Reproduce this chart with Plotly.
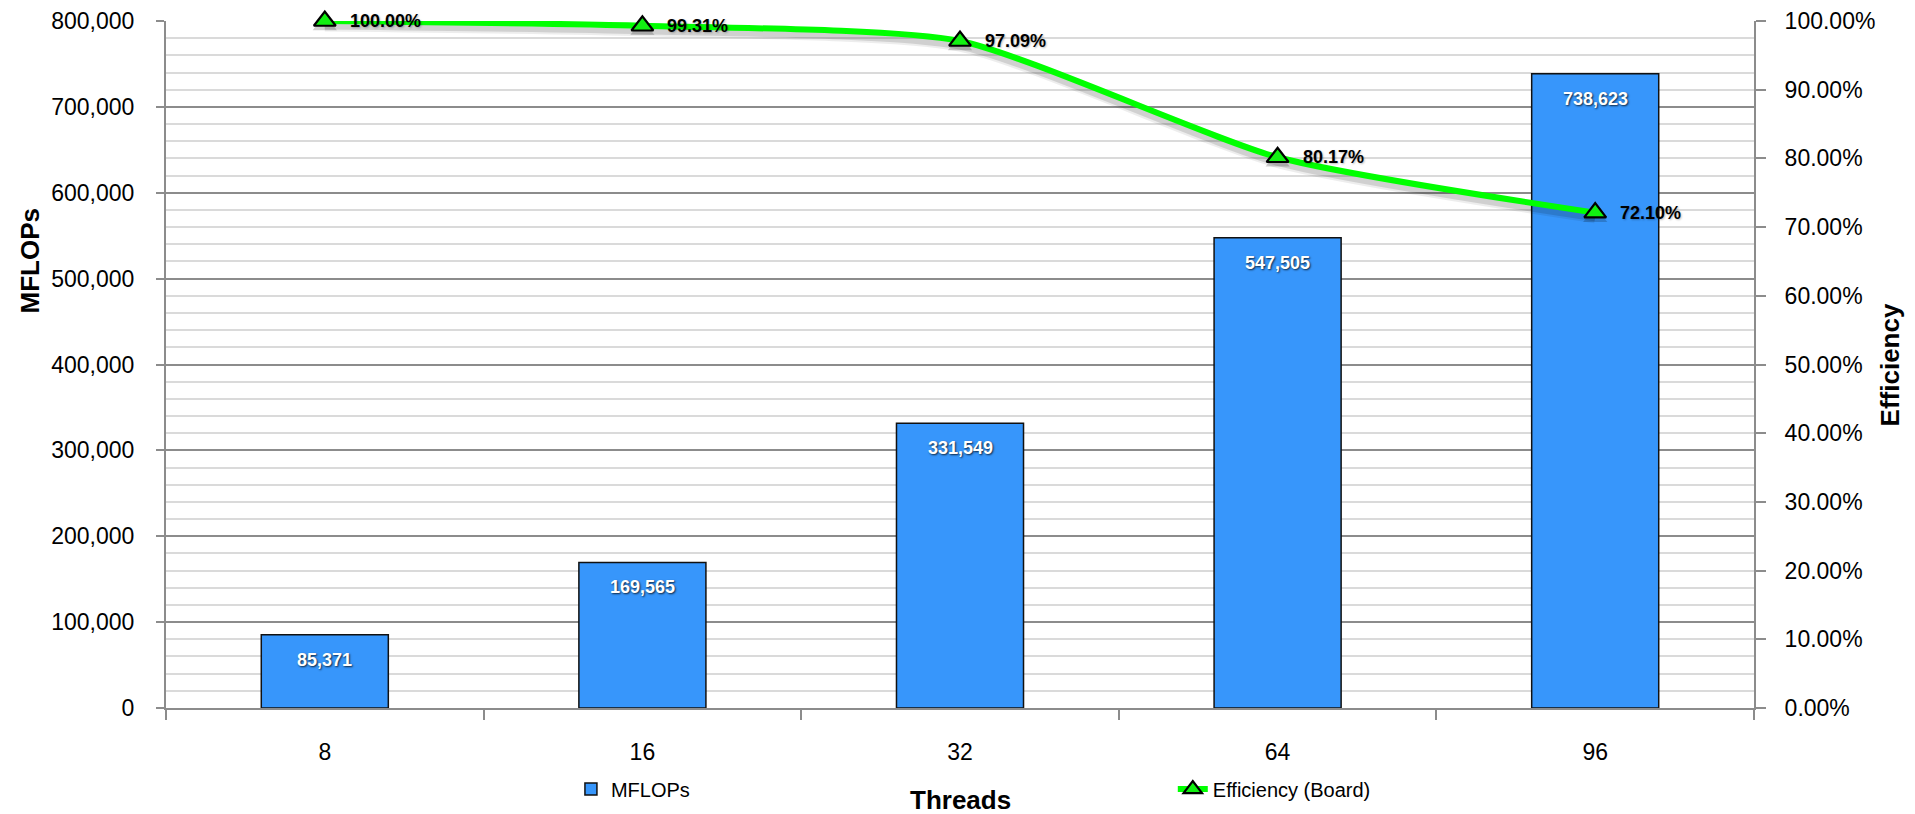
import plotly.graph_objects as go

# Scaling benchmark: throughput (MFLOPs) and parallel efficiency per thread count
threads = ["8", "16", "32", "64", "96"]
mflops = [85371, 169565, 331549, 547505, 738623]
efficiency = [1.0000, 0.9931, 0.9709, 0.8017, 0.7210]

FONT = "Liberation Sans, Arial, sans-serif"
BAR_BLUE = "#3796fb"
LIME = "#00ff00"
AXIS_GRAY = "#8c8c8c"

fig = go.Figure()

fig.add_trace(go.Bar(
    x=threads, y=mflops, name="MFLOPs", width=0.4,
    marker=dict(color=BAR_BLUE, line=dict(color="#111111", width=1.5)),
    yaxis="y", legend="legend", hoverinfo="x+y",
))

# soft drop shadow under the efficiency curve (same data on a hidden, slightly shifted axis)
for w, op in [(13, 0.07), (9, 0.12)]:
    fig.add_trace(go.Scatter(
        x=threads, y=efficiency, yaxis="y2", mode="lines+markers",
        line=dict(color=f"rgba(0,0,0,{op})", width=w, shape="spline", smoothing=0.6),
        marker=dict(symbol="triangle-up", size=21, color=f"rgba(0,0,0,{op})"),
        showlegend=False, hoverinfo="skip", cliponaxis=False,
    ))

fig.add_trace(go.Scatter(
    x=threads, y=efficiency, yaxis="y3", name="Efficiency (Board)",
    mode="lines+markers",
    line=dict(color=LIME, width=6, shape="spline", smoothing=0.6),
    marker=dict(symbol="triangle-up", size=19, color="#12f012",
                line=dict(color="black", width=2.2)),
    legend="legend2", cliponaxis=False,
))

annotations = []
# value labels inside the top of each bar (x given as category index)
for i, v in enumerate(mflops):
    annotations.append(dict(
        x=i, y=v, xref="x", yref="y", text=f"{v:,}", showarrow=False,
        yanchor="middle", yshift=-25,
        font=dict(family=FONT, size=18, color="white", weight="bold",
                  shadow="1px 1px 2px rgba(0,0,0,0.75)"),
    ))
# efficiency labels to the right of each marker
for i, e in enumerate(efficiency):
    annotations.append(dict(
        x=i, y=e, xref="x", yref="y3", text=f"{e * 100:.2f}%", showarrow=False,
        xanchor="left", yanchor="middle", xshift=23,
        font=dict(family=FONT, size=18, color="black", weight="bold",
                  shadow="1px 1px 2px rgba(0,0,0,0.25)"),
    ))
# axis titles
annotations += [
    dict(text="MFLOPs", xref="paper", yref="paper", x=-0.0856, y=0.65,
         textangle=-90, showarrow=False, xanchor="center", yanchor="middle",
         font=dict(family=FONT, size=26, color="black", weight="bold")),
    dict(text="Efficiency", xref="paper", yref="paper", x=1.0856, y=0.5,
         textangle=-90, showarrow=False, xanchor="center", yanchor="middle",
         font=dict(family=FONT, size=26, color="black", weight="bold")),
    dict(text="Threads", xref="paper", yref="paper", x=0.5, y=-0.134,
         showarrow=False, xanchor="center", yanchor="middle",
         font=dict(family=FONT, size=26, color="black", weight="bold")),
]

fig.update_layout(
    width=1915, height=814,
    margin=dict(l=166, r=161, t=21, b=106, autoexpand=False),
    paper_bgcolor="white", plot_bgcolor="white",
    font=dict(family=FONT, color="black"),
    bargap=0.6,
    xaxis=dict(
        type="category", range=[-0.5, 4.5], tickson="boundaries",
        ticks="outside", ticklen=10,
        tickcolor=AXIS_GRAY, tickwidth=1.5, showline=True, linecolor=AXIS_GRAY,
        linewidth=2, showgrid=False, tickfont=dict(size=23),
        ticklabelstandoff=22,
    ),
    yaxis=dict(
        range=[0, 800000], dtick=100000, tickformat=",d",
        showgrid=True, gridcolor=AXIS_GRAY, gridwidth=1.5,
        minor=dict(dtick=20000, showgrid=True, gridcolor="#dadada", gridwidth=2),
        showline=True, linecolor=AXIS_GRAY, linewidth=2,
        ticks="outside", ticklen=8, tickcolor=AXIS_GRAY, tickwidth=1.5,
        zeroline=False, tickfont=dict(size=23), ticklabelstandoff=17,
    ),
    yaxis2=dict(
        overlaying="y", range=[0.006, 1.006], visible=False,
    ),
    yaxis3=dict(
        overlaying="y", side="right", range=[0, 1], dtick=0.1,
        tickformat=".2%", showgrid=False, zeroline=False,
        showline=True, linecolor=AXIS_GRAY, linewidth=2,
        ticks="outside", ticklen=10, tickcolor=AXIS_GRAY, tickwidth=1.5,
        tickfont=dict(size=23), ticklabelstandoff=14,
    ),
    legend=dict(
        x=0.255, y=-0.118, xanchor="left", yanchor="middle",
        orientation="h", bgcolor="rgba(0,0,0,0)",
        font=dict(family=FONT, size=20, color="black"),
    ),
    legend2=dict(
        x=0.634, y=-0.118, xanchor="left", yanchor="middle",
        orientation="h", bgcolor="rgba(0,0,0,0)",
        font=dict(family=FONT, size=20, color="black"),
    ),
    annotations=annotations,
    showlegend=True,
)

fig.write_html("out.html")
